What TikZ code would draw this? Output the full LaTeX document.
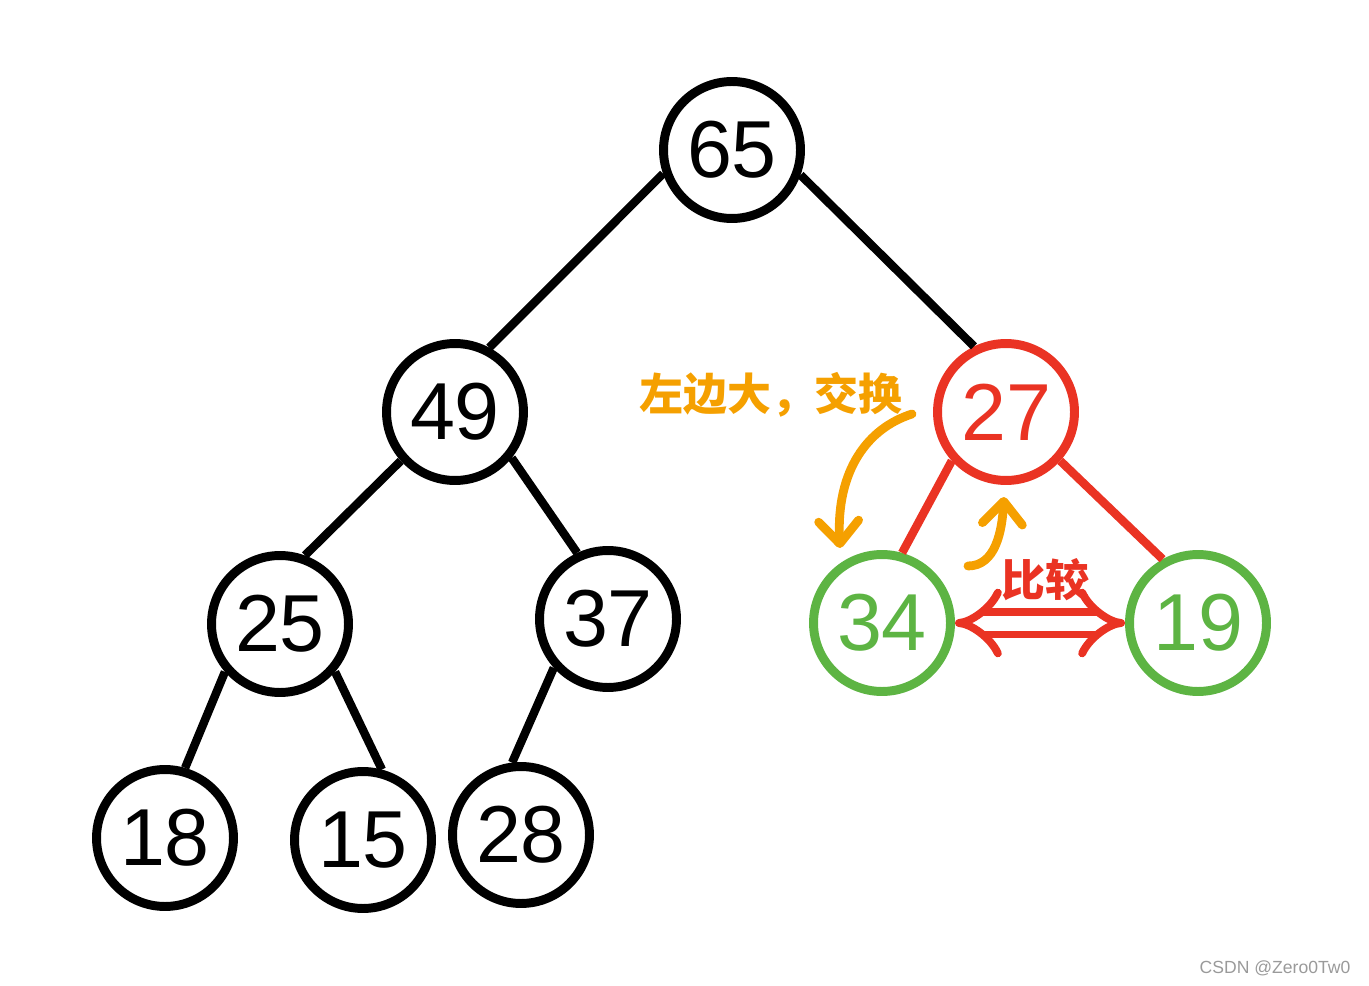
\documentclass[tikz,border=0pt]{standalone}
\usepackage{fontspec}
\setmainfont{Liberation Sans}
\newfontfamily\cjk{Noto Sans CJK SC}
\usepackage{tikz}
\usetikzlibrary{arrows.meta}
\definecolor{HeapRed}{HTML}{EA3323}
\definecolor{HeapGreen}{HTML}{5DB443}
\definecolor{SwapOrange}{HTML}{F5A000}
\definecolor{MarkGray}{HTML}{9A9A9A}

\begin{document}
\begin{tikzpicture}[x=0.02cm,y=-0.02cm,
  key/.style={circle, draw=black, line width=5.1pt, minimum size=2.74cm, inner sep=0pt, font=\fontsize{46}{50}\selectfont},
  link/.style={line width=4.8pt},
  hint/.style={font=\cjk\bfseries\fontsize{25}{30}\selectfont},
  swap/.style={SwapOrange, line width=5pt, line cap=round, -{Straight Barb[length=0.45cm, width=0.8cm, round]}}]
  \useasboundingbox (0,0) rectangle (1369,986);
  \node[key] (k65) at (732,150) {65};
  \node[key] (k49) at (455,412) {49};
  \node[key, draw=HeapRed, text=HeapRed] (k27) at (1006,412) {27};
  \node[key] (k25) at (280,624) {25};
  \node[key] (k37) at (608,619) {37};
  \node[key, draw=HeapGreen, text=HeapGreen] (k34) at (882,623) {34};
  \node[key, draw=HeapGreen, text=HeapGreen] (k19) at (1198,623) {19};
  \node[key] (k18) at (165,838) {18};
  \node[key] (k15) at (363,840) {15};
  \node[key] (k28) at (521,835) {28};
  \draw[link] (k65.199) -- (k49.62);
  \draw[link] (k65.340) -- (k27.116);
  \draw[link] (k49.222) -- (k25.70);
  \draw[link] (k49.321) -- (k37.115);
  \draw[link] (k25.221) -- (k18.74);
  \draw[link] (k25.319) -- (k15.75);
  \draw[link] (k37.222) -- (k28.97);
  \draw[link, HeapRed] (k27.222) -- (k34.74);
  \draw[link, HeapRed] (k27.318) -- (k19.119);
  \node[hint, text=SwapOrange] (swaptxt) at (771,395) {左边大，交换};
  \node[hint, text=HeapRed] (cmptxt) at (1045,580) {比较};
  \coordinate (down0) at (912,414);
  \coordinate (down1) at (840,548);
  \coordinate (up0) at (968,566);
  \coordinate (up1) at (1004,497);
  \draw[swap] (down0) .. controls (868,428) and (836,470) .. (down1);
  \draw[swap] (up0) .. controls (996,566) and (1002,530) .. (up1);
  \draw[HeapRed, line width=4.5pt, double=white, double distance=0.3cm, {Implies}-{Implies}] (k34) -- (k19);
  \node[MarkGray, font=\fontsize{10}{12}\selectfont] (mark) at (1275,968) {CSDN @Zero0Tw0};
\end{tikzpicture}
\end{document}
